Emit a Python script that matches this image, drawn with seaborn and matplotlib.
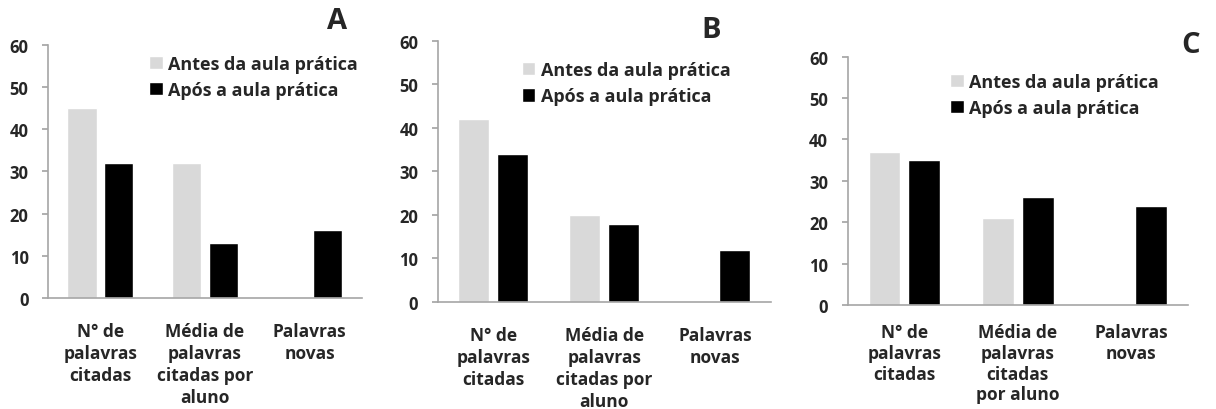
import matplotlib
matplotlib.use("Agg")
import matplotlib.pyplot as plt
import seaborn as sns
import pandas as pd

# data
categorias_ab = ["N° de\npalavras\ncitadas", "Média de\npalavras\ncitadas por\naluno", "Palavras\nnovas"]
categorias_c = ["N° de\npalavras\ncitadas", "Média de\npalavras\ncitadas\npor aluno", "Palavras\nnovas"]
series = ["Antes da aula prática", "Após a aula prática"]

antes_a = [45, 32, 0]
apos_a = [32, 13, 16]
antes_b = [42, 20, 0]
apos_b = [34, 18, 12]
antes_c = [37, 21, 0]
apos_c = [35, 26, 24]

yticks = [0, 10, 20, 30, 40, 50, 60]
letras = ["A", "B", "C"]

sns.set_theme(style="white")
plt.rcParams['font.family'] = ['Open Sans', 'DejaVu Sans']
plt.rcParams['font.weight'] = 'bold'


def make_df(cats, antes, apos):
    rows = []
    for c, v in zip(cats, antes):
        rows.append({"cat": c, "serie": series[0], "valor": v})
    for c, v in zip(cats, apos):
        rows.append({"cat": c, "serie": series[1], "valor": v})
    return pd.DataFrame(rows)


fig = plt.figure(figsize=(12.16, 4.1), dpi=100)
# df, categories, axes rect, legend anchor, letter position, label pad, label line spacing
panels = [
    (make_df(categorias_ab, antes_a, apos_a), categorias_ab, [0.0395, 0.271, 0.258, 0.617], (0.30, 0.99), (0.277, 0.948), 11, 1.3),
    (make_df(categorias_ab, antes_b, apos_b), categorias_ab, [0.360, 0.261, 0.274, 0.637], (0.23, 0.95), (0.585, 0.925), 11, 1.3),
    (make_df(categorias_c, antes_c, apos_c), categorias_c, [0.697, 0.254, 0.280, 0.605], (0.28, 0.965), (0.979, 0.89), 7, 1.2),
]
pal = {series[0]: "#d9d9d9", series[1]: "#000000"}

for (df, cats, pos, leg_anchor, letra_pos, xpad, lsp), letra in zip(panels, letras):
    ax = fig.add_axes(pos)
    sns.barplot(data=df, x="cat", y="valor", hue="serie", order=cats, hue_order=series,
                palette=pal, width=0.7, gap=0.2, saturation=1, ax=ax)
    ax.set_ylim(0, 60)
    ax.set_xlim(-0.5, 2.5)
    ax.set_yticks(yticks)
    ax.set_yticklabels([str(t) for t in yticks], fontsize=12, fontweight='bold')
    ax.set_xticklabels(cats, fontsize=12.5, fontweight='bold', linespacing=lsp)
    ax.set_xlabel("")
    ax.set_ylabel("")
    for s in ["top", "right"]:
        ax.spines[s].set_visible(False)
    for s in ["left", "bottom"]:
        ax.spines[s].set_color("#a6a6a6")
        ax.spines[s].set_linewidth(1.2)
    ax.tick_params(axis="y", left=True, length=4, color="#a6a6a6", pad=10)
    ax.tick_params(axis="x", bottom=False, pad=xpad)
    leg = ax.legend(loc="upper left", bbox_to_anchor=leg_anchor, frameon=False,
                    handlelength=0.75, handleheight=0.75, handletextpad=0.3,
                    labelspacing=0.45, borderaxespad=0, prop={'size': 13, 'weight': 'bold'})
    fig.text(letra_pos[0], letra_pos[1], letra, ha="center", va="center",
             fontsize=21, fontweight="bold")

plt.savefig("out.png", dpi=100)
